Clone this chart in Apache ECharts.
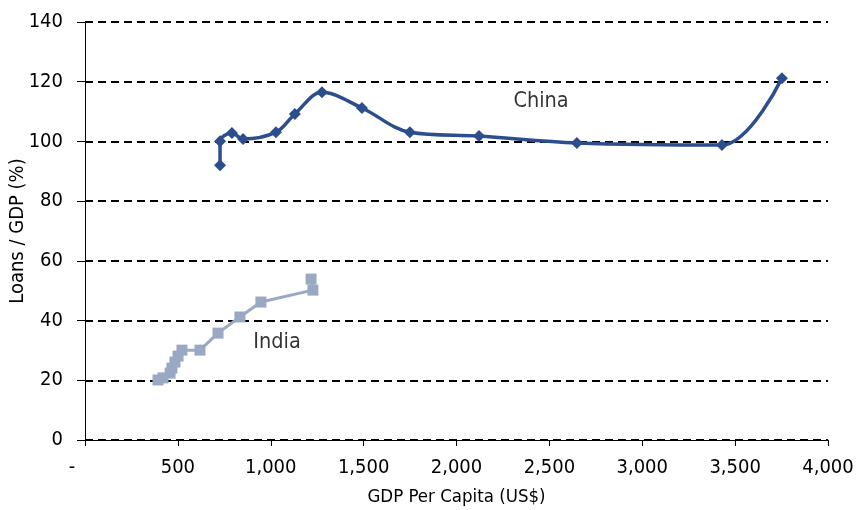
<!DOCTYPE html>
<html>
<head>
<meta charset="utf-8">
<script src="https://cdn.jsdelivr.net/npm/echarts@6/dist/echarts.min.js"></script>
<style>
html,body{margin:0;padding:0;background:#fff;}
#chart{width:858px;height:510px;}
</style>
</head>
<body>
<div id="chart"></div>
<script>
// GDP per capita (US$) and Loans/GDP (%)
var chinaGdp   = [727, 727, 791, 851, 1028, 1130, 1276, 1491, 1749, 2121, 2648, 3429, 3752];
var chinaLoans = [92.0, 100.1, 102.8, 100.8, 103.1, 109.2, 116.5, 111.2, 103.1, 101.8, 99.5, 98.8, 121.2];

var indiaGdp   = [393, 420, 458, 468, 484, 501, 522, 619, 716, 834, 947, 1227, 1217];
var indiaLoans = [20.1, 20.8, 22.4, 24.1, 26.1, 28.1, 30.1, 30.1, 35.8, 41.2, 46.2, 50.2, 53.9];

var seriesNames = ['China', 'India'];
var labelPositions = [[2455, 113.5], [1034, 32.8]];

var xTicks = [0, 500, 1000, 1500, 2000, 2500, 3000, 3500, 4000];
var yTicks = [0, 20, 40, 60, 80, 100, 120, 140];

var xTitle = 'GDP Per Capita (US$)';
var yTitle = 'Loans / GDP (%)';

// ---- font selection: prefer a condensed face, then size text near the reference widths
var ctx = document.createElement('canvas').getContext('2d');
function w(font, size, txt) { ctx.font = size + 'px ' + font; return ctx.measureText(txt).width; }
function hasFont(name) {
  var s = 'mmmmmmlllllliiiiWW0123';
  return w('"' + name + '", monospace', 60, s) !== w('monospace', 60, s) &&
         w('"' + name + '", serif', 60, s) !== w('serif', 60, s);
}
var candidates = ['Liberation Sans Narrow', 'Arial Narrow', 'DejaVu Sans Condensed', 'Roboto Condensed', 'Open Sans Condensed', 'Liberation Sans'];
var FONT = 'sans-serif';
for (var i = 0; i < candidates.length; i++) {
  if (hasFont(candidates[i])) { FONT = '"' + candidates[i] + '", sans-serif'; break; }
}
function fit(txt, targetW, maxSize, boost) {
  var s = boost * targetW * 100 / w(FONT, 100, txt);
  return Math.min(maxSize, Math.round(s * 2) / 2);
}
var tickSize  = fit('4,000', 46, 22, 1.12);
var xNameSize = fit(xTitle, 163, 22, 1.08);
var yNameSize = fit(yTitle, 146, 22, 1.0);
var annSize   = fit('China', 50, 24, 1.1);

function zip(a, b) { return a.map(function (v, i) { return [v, b[i]]; }); }

var chart = echarts.init(document.getElementById('chart'), null, {renderer: 'canvas'});
chart.setOption({
  animation: false,
  backgroundColor: '#ffffff',
  grid: {left: 85, right: 30, top: 22, bottom: 70, containLabel: false, outerBoundsMode: 'none'},
  xAxis: {
    type: 'value',
    min: xTicks[0], max: xTicks[xTicks.length - 1], interval: xTicks[1] - xTicks[0],
    name: xTitle,
    nameLocation: 'middle',
    nameGap: 48,
    nameMoveOverlap: false,
    nameTextStyle: {fontFamily: FONT, fontSize: xNameSize, color: '#000'},
    axisLine: {show: true, onZero: false, lineStyle: {color: '#000', width: 1}},
    axisTick: {show: true, length: 6, lineStyle: {color: '#000', width: 1}},
    splitLine: {show: false},
    axisLabel: {
      margin: 18,
      fontFamily: FONT, fontSize: tickSize, color: '#000',
      formatter: function (v) {
        if (v === 0) return '{dash|-}';
        return v.toLocaleString('en-US');
      },
      rich: {dash: {fontFamily: FONT, fontSize: tickSize, color: '#000', padding: [0, 26, 0, 0]}}
    }
  },
  yAxis: {
    type: 'value',
    min: yTicks[0], max: yTicks[yTicks.length - 1], interval: yTicks[1] - yTicks[0],
    name: yTitle,
    nameLocation: 'middle',
    nameGap: 57,
    nameMoveOverlap: false,
    nameTextStyle: {fontFamily: FONT, fontSize: yNameSize, color: '#000'},
    axisLine: {show: true, lineStyle: {color: '#000', width: 1}},
    axisTick: {show: true, length: 8, lineStyle: {color: '#000', width: 1}},
    axisLabel: {margin: 22, fontFamily: FONT, fontSize: tickSize, color: '#000'},
    splitLine: {show: true, lineStyle: {color: '#000', width: 2, type: [8, 5]}}
  },
  series: [
    {
      name: seriesNames[0],
      type: 'line',
      data: zip(chinaGdp, chinaLoans),
      smooth: 0.35,
      symbol: 'diamond',
      symbolSize: 12,
      lineStyle: {color: '#2D4E8E', width: 3.5},
      itemStyle: {color: '#2D4E8E'},
      z: 3
    },
    {
      name: seriesNames[1],
      type: 'line',
      data: zip(indiaGdp, indiaLoans),
      smooth: false,
      symbol: 'rect',
      symbolSize: 11,
      lineStyle: {color: '#9AA9C3', width: 3},
      itemStyle: {color: '#9AA9C3'},
      z: 2
    },
    {
      type: 'scatter',
      data: labelPositions.map(function (p, i) { return {value: p, name: seriesNames[i]}; }),
      symbolSize: 0,
      silent: true,
      label: {
        show: true, position: 'inside',
        formatter: '{b}',
        fontFamily: FONT, fontSize: annSize, color: '#000'
      }
    }
  ]
});
</script>
</body>
</html>
